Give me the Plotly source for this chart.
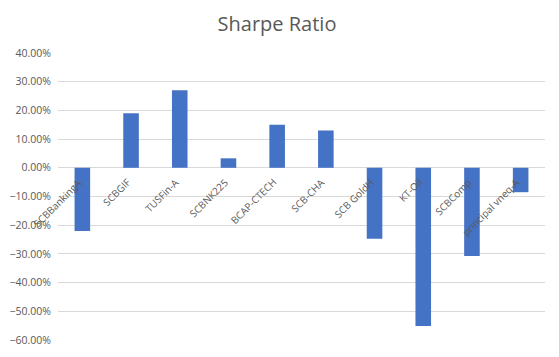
import plotly.graph_objects as go

categories = ["SCBBankingA", "SCBGIF", "TUSFin-A", "SCBNK225", "BCAP-CTECH",
              "SCB-CHA", "SCB GoldH", "KT-Oil", "SCBComp", "principal vneq-A"]
sharpe = [-0.22, 0.19, 0.27, 0.033, 0.15, 0.13, -0.247, -0.551, -0.307, -0.085]
y_ticks = [-0.6, -0.5, -0.4, -0.3, -0.2, -0.1, 0.0, 0.1, 0.2, 0.3, 0.4]

# page body has an 8px margin; figure sized to fit the 559x357 window
W, H = 543, 341
L, R, T, B = 50, 6, 45, 9

FONT = "Open Sans, Lato, sans-serif"
GREY = "#595959"

fig = go.Figure()
fig.add_trace(go.Bar(x=categories, y=sharpe, marker_color="#4472C4",
                     marker_line_width=0, width=0.32))

anns = []
for c in categories:
    anns.append(dict(x=c, y=0, xref="x", yref="y", text=c, showarrow=False,
                     textangle=-45, xanchor="right", yanchor="top",
                     xshift=5, yshift=-5,
                     font=dict(family=FONT, size=10, color=GREY)))

fig.update_layout(
    width=W, height=H,
    margin=dict(l=L, r=R, t=T, b=B, autoexpand=False),
    paper_bgcolor="white", plot_bgcolor="white",
    title=dict(text="Sharpe Ratio", x=269 / W, xref="container", xanchor="center",
               y=1 - 16 / H, yanchor="middle",
               font=dict(family=FONT, size=20, color=GREY)),
    showlegend=False,
    annotations=anns,
    xaxis=dict(showticklabels=False, showgrid=False, zeroline=False, showline=False,
               ticks="", range=[-0.5, 9.5], autorange=False, automargin=False),
    yaxis=dict(range=[-0.6, 0.4], autorange=False, tickvals=y_ticks, tickformat=".2%",
               showgrid=True, gridcolor="#d9d9d9", gridwidth=1,
               zeroline=True, zerolinecolor="#d9d9d9", zerolinewidth=1,
               showline=False, ticks="", ticklabelstandoff=6, automargin=False,
               tickfont=dict(family=FONT, size=10.5, color=GREY)),
)

fig.write_html("out.html")
